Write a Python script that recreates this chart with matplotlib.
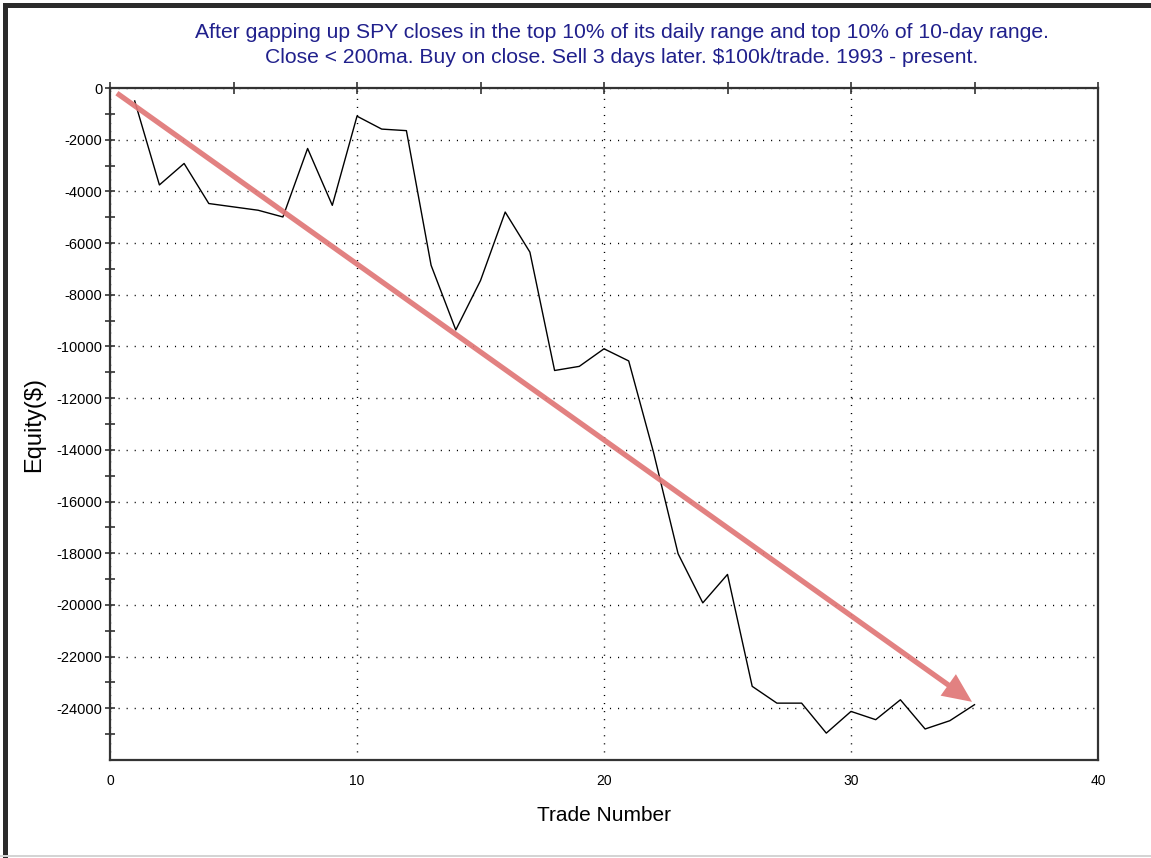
import matplotlib
matplotlib.use("Agg")
import matplotlib.pyplot as plt
from matplotlib.patches import Rectangle, FancyArrowPatch
from matplotlib.ticker import MultipleLocator, FixedLocator

trades = list(range(1, 36))
equity = [-500, -3750, -2920, -4470, -4600, -4730, -4990, -2340, -4540, -1090,
          -1590, -1650, -6860, -9360, -7450, -4800, -6350, -10930, -10770, -10090,
          -10560, -14080, -18020, -19920, -18820, -23150, -23800, -23800, -24960, -24120,
          -24440, -23670, -24800, -24480, -23860]

y_ticks = list(range(-24000, 1, 2000))
trend_start = (0.28, -200)
trend_end = (34.9, -23750)

title_lines = "After gapping up SPY closes in the top 10% of its daily range and top 10% of 10-day range.\n" \
              "Close < 200ma. Buy on close. Sell 3 days later. $100k/trade. 1993 - present."

plt.rcParams["font.family"] = ["Liberation Sans", "DejaVu Sans"]
plt.rcParams["axes.unicode_minus"] = False

W, H = 1151, 858
fig = plt.figure(figsize=(W / 100, H / 100), dpi=100)
ax = fig.add_axes([110 / W, 1 - 760 / H, (1098 - 110) / W, (760 - 88) / H])

ax.plot(trades, equity, color="black", lw=1.0, zorder=3)

arrow = FancyArrowPatch(trend_start, trend_end,
                        arrowstyle="simple,tail_width=0.38,head_width=1.9,head_length=2.1",
                        mutation_scale=10, color="#e07676", alpha=0.92, lw=0,
                        shrinkA=0, shrinkB=0, zorder=4)
ax.add_patch(arrow)

ax.set_xlim(0, 40)
ax.set_ylim(-26000, 0)
ax.xaxis.set_major_locator(MultipleLocator(10))
ax.xaxis.set_minor_locator(MultipleLocator(5))
ax.yaxis.set_major_locator(FixedLocator(y_ticks))
ax.yaxis.set_minor_locator(FixedLocator(list(range(-25000, 0, 2000))))

ax.tick_params(axis="x", which="both", bottom=False, top=True, direction="inout",
               length=8, width=1.2, color="#333333", labelsize=10, pad=6)
ax.tick_params(axis="y", which="both", left=True, right=False, direction="inout",
               length=7, width=1.2, color="#333333", labelsize=10.5, pad=2)

ax.grid(True, which="major", color="black", linestyle=(0, (0.8, 5)), lw=1.0)

for s in ax.spines.values():
    s.set_linewidth(1.6)
    s.set_color("#333333")

ax.set_xlabel("Trade Number", fontsize=15, labelpad=13)
ax.set_ylabel("Equity($)", fontsize=17, labelpad=8)

fig.text(622 / W, 1 - 45 / H, title_lines, ha="center", va="center", fontsize=15.2,
         color="#20208c", linespacing=1.42)

# window border
fig.add_artist(Rectangle((3 / W, 0), 5 / W, 1 - 3 / H, transform=fig.transFigure,
                         color="#2b2b2b", lw=0))
fig.add_artist(Rectangle((3 / W, 1 - 8 / H), 1, 5 / H, transform=fig.transFigure,
                         color="#2b2b2b", lw=0))
fig.add_artist(Rectangle((0, 1 - 857 / H), 1, 2 / H, transform=fig.transFigure,
                         color="#d4d4d4", lw=0))

fig.savefig("out.png", dpi=100)
